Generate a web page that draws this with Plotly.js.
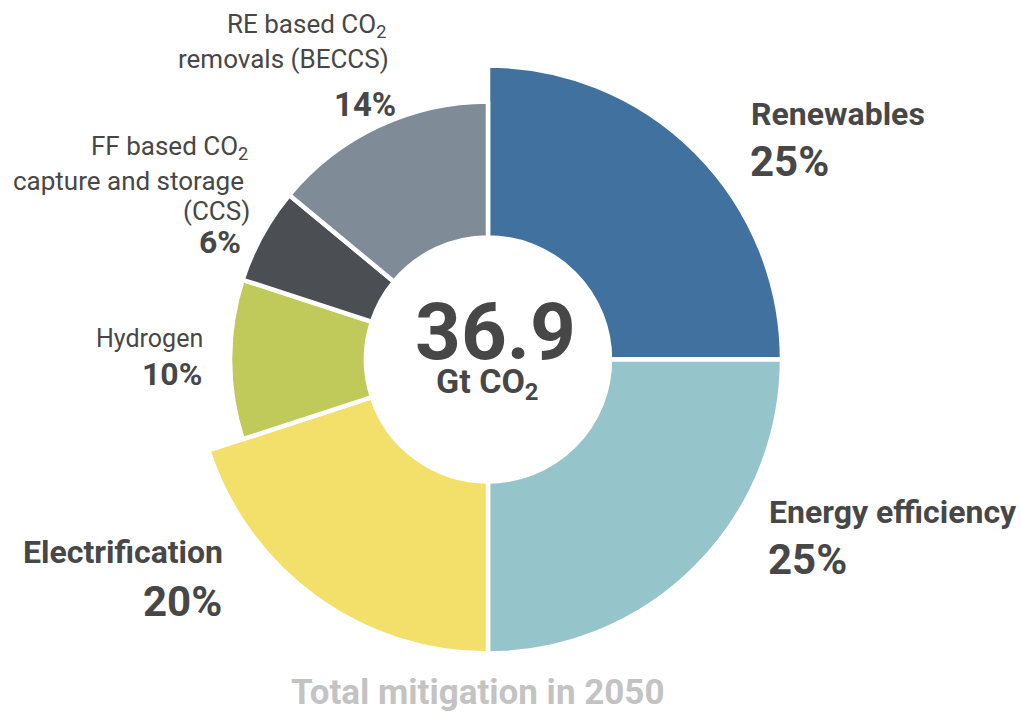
<!DOCTYPE html>
<html>
<head>
<meta charset="utf-8">
<script src="https://cdn.plot.ly/plotly-3.0.1.min.js"></script>
<style>
  html, body { margin: 0; padding: 0; background: #ffffff; }
  #chart { width: 1021px; height: 716px; }
</style>
</head>
<body>
<div id="chart"></div>
<script>
// ---- data ----
const categories = ["Renewables", "Energy efficiency", "Electrification", "Hydrogen",
  "FF based CO2 capture and storage (CCS)", "RE based CO2 removals (BECCS)"];
const shares = [25, 25, 20, 10, 6, 14];
const totalMitigation = "36.9";
const totalUnit = "Gt CO<sub>2</sub>";
const chartTitle = "Total mitigation in 2050";

// ---- style ----
const colors = ["#41729f", "#95c4ca", "#f3e06b", "#bfca5b", "#4b4f53", "#7f8c98"];
const bigRing = [true, true, true, false, false, false]; // which slices use the larger outer radius
const W = 1021, H = 716;
const cx = 488, cy = 359.5;
const rBig = 294, rSmall = 258, rHole = 122;
const lineW = 4.5;
const TXT = "#474747";
const FONT = "Roboto, 'Open Sans', sans-serif";

function domainFor(r) {
  return {
    x: [(cx - r) / W, (cx + r) / W],
    y: [(H - cy - r) / H, (H - cy + r) / H]
  };
}

function ring(isBig, r) {
  return {
    type: "pie",
    labels: categories,
    values: shares,
    sort: false,
    direction: "clockwise",
    rotation: 0,
    hole: rHole / r,
    domain: domainFor(r),
    textinfo: "none",
    hoverinfo: "none",
    showlegend: false,
    marker: {
      colors: colors.map((c, i) => (bigRing[i] === isBig ? c : "rgba(0,0,0,0)")),
      line: {
        color: "#ffffff",
        width: bigRing.map(b => (b === isBig ? lineW : 0))
      }
    }
  };
}

const traces = [ring(true, rBig), ring(false, rSmall)];

function ann(text, px, py, size, bold, anchor, color) {
  return {
    xref: "paper", yref: "paper",
    x: px / W, y: 1 - py / H,
    xanchor: anchor, yanchor: "middle",
    align: anchor === "right" ? "right" : (anchor === "left" ? "left" : "center"),
    text: bold ? "<b>" + text + "</b>" : text,
    showarrow: false,
    borderpad: 0,
    font: { family: FONT, size: size, color: color || TXT }
  };
}

const pct = shares.map(v => v + "%");

const annotations = [
  // Renewables
  ann(categories[0], 750, 114, 32, true, "left"),
  ann(pct[0], 749, 161, 42, true, "left"),
  // Energy efficiency
  ann(categories[1], 768, 512, 32, true, "left"),
  ann(pct[1], 767, 559, 42, true, "left"),
  // Electrification
  ann(categories[2], 224, 552, 32, true, "right"),
  ann(pct[2], 223, 601, 42, true, "right"),
  // Hydrogen
  ann(categories[3], 204, 338, 25, false, "right"),
  ann(pct[3], 203, 374, 32, true, "right"),
  // CCS
  ann("FF based CO<sub>2</sub>", 249, 147, 26, false, "right"),
  ann("capture and storage", 245, 181, 26, false, "right"),
  ann("(CCS)", 251, 211, 26, false, "right"),
  ann(pct[4], 242, 242, 32, true, "right"),
  // BECCS
  ann("RE based CO<sub>2</sub>", 387, 26, 26, false, "right"),
  ann("removals (BECCS)", 390, 59, 26, false, "right"),
  ann(pct[5], 397, 105, 33, true, "right"),
  // center
  ann(totalMitigation, 495, 332, 80, true, "center"),
  ann(totalUnit, 487, 383, 34, true, "center"),
  // title
  ann(chartTitle, 478, 692, 35, true, "center", "#c3c3c3")
];

const layout = {
  width: W, height: H,
  margin: { l: 0, r: 0, t: 0, b: 0 },
  paper_bgcolor: "#ffffff",
  plot_bgcolor: "#ffffff",
  showlegend: false,
  annotations: annotations,
  font: { family: FONT }
};

Plotly.newPlot("chart", traces, layout, { displayModeBar: false, staticPlot: true });
</script>
</body>
</html>
